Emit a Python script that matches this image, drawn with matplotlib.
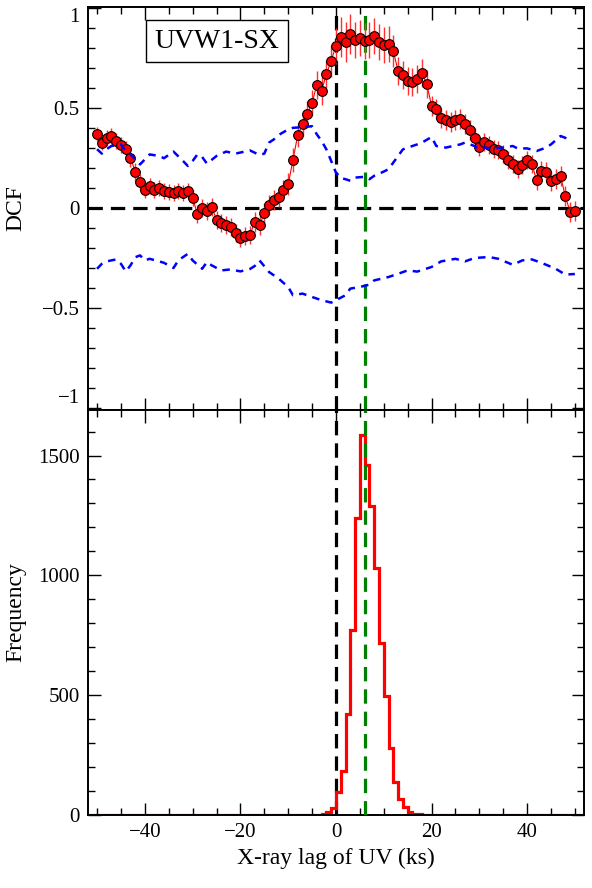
import numpy as np
import matplotlib
matplotlib.use("Agg")
import matplotlib.pyplot as plt
from matplotlib.ticker import MultipleLocator

plt.rcParams['font.family'] = 'serif'
plt.rcParams['font.serif'] = ['Liberation Serif', 'DejaVu Serif']
plt.rcParams['axes.unicode_minus'] = True

# DCF points, one every ks from -50 to 50
lag = np.arange(-50, 51)
dcf = [0.371, 0.323, 0.348, 0.360, 0.335, 0.315, 0.297, 0.252, 0.182, 0.131,
       0.090, 0.111, 0.091, 0.098, 0.086, 0.078, 0.073, 0.083, 0.073, 0.086,
       0.050, -0.030, 0.000, -0.017, 0.006, -0.058, -0.075, -0.083, -0.093, -0.124,
       -0.149, -0.141, -0.133, -0.072, -0.085, -0.027, 0.016, 0.040, 0.056, 0.090,
       0.119, 0.239, 0.365, 0.418, 0.468, 0.525, 0.617, 0.587, 0.670, 0.736,
       0.812, 0.857, 0.832, 0.871, 0.841, 0.852, 0.837, 0.841, 0.861, 0.832,
       0.816, 0.819, 0.783, 0.687, 0.667, 0.633, 0.630, 0.645, 0.675, 0.620,
       0.512, 0.496, 0.448, 0.440, 0.431, 0.438, 0.446, 0.421, 0.390, 0.348,
       0.305, 0.330, 0.313, 0.293, 0.290, 0.272, 0.239, 0.222, 0.197, 0.215,
       0.240, 0.219, 0.139, 0.186, 0.182, 0.136, 0.144, 0.161, 0.058, -0.018,
       -0.015]
dcf_err = [0.035, 0.035, 0.04, 0.04, 0.04, 0.04, 0.04, 0.045, 0.045, 0.04,
           0.04, 0.04, 0.04, 0.04, 0.04, 0.04, 0.04, 0.04, 0.04, 0.04,
           0.04, 0.045, 0.045, 0.045, 0.045, 0.045, 0.045, 0.045, 0.045, 0.045,
           0.045, 0.045, 0.045, 0.05, 0.05, 0.05, 0.05, 0.05, 0.05, 0.05,
           0.055, 0.06, 0.06, 0.06, 0.065, 0.065, 0.07, 0.07, 0.07, 0.08,
           0.09, 0.1, 0.1, 0.1, 0.09, 0.09, 0.09, 0.09, 0.09, 0.09,
           0.09, 0.09, 0.08, 0.07, 0.07, 0.07, 0.07, 0.07, 0.07, 0.07,
           0.05, 0.05, 0.05, 0.05, 0.05, 0.05, 0.05, 0.05, 0.05, 0.05,
           0.045, 0.045, 0.045, 0.045, 0.045, 0.045, 0.045, 0.045, 0.045, 0.045,
           0.045, 0.045, 0.05, 0.05, 0.05, 0.05, 0.05, 0.05, 0.05, 0.05,
           0.05]

# significance curves (blue dashed)
hi_lag = [-50, -49, -48, -47, -45, -44, -43, -41, -40, -39, -37, -36, -34, -32, -31,
          -30, -29, -28, -27, -25, -23, -21, -18, -16, -15, -14, -13, -12, -10, -9,
          -7, -5, -4, -3, -2, -1, 0, 1, 2, 3, 4, 6, 7, 8, 10, 11, 13, 14, 16, 17,
          18, 20, 21, 23, 26, 27, 29, 30, 31, 33, 35, 37, 38, 40, 42, 44, 45, 47, 48, 49]
hi_dcf = [0.294, 0.272, 0.294, 0.310, 0.318, 0.285, 0.268, 0.218, 0.243, 0.268,
          0.260, 0.249, 0.282, 0.235, 0.210, 0.235, 0.268, 0.255, 0.222, 0.260,
          0.282, 0.272, 0.288, 0.265, 0.272, 0.327, 0.343, 0.365, 0.393, 0.401,
          0.404, 0.409, 0.368, 0.335, 0.293, 0.235, 0.177, 0.150, 0.144, 0.136,
          0.152, 0.156, 0.144, 0.161, 0.182, 0.194, 0.260, 0.293, 0.310, 0.318,
          0.327, 0.355, 0.310, 0.302, 0.318, 0.327, 0.310, 0.293, 0.302, 0.298,
          0.302, 0.310, 0.298, 0.298, 0.285, 0.302, 0.318, 0.360, 0.351, 0.327]
lo_lag = [-50, -49, -48, -46, -45, -44, -43, -42, -41, -40, -39, -37, -36, -34, -33,
          -31, -30, -28, -27, -26, -24, -22, -20, -18, -17, -16, -14, -12, -10, -9,
          -7, -5, -3, -1, 0, 2, 3, 5, 7, 8, 11, 13, 15, 17, 20, 22, 25, 27, 29, 32,
          34, 37, 39, 41, 43, 46, 48, 50]
lo_dcf = [-0.304, -0.279, -0.267, -0.257, -0.279, -0.317, -0.287, -0.246, -0.237, -0.262,
          -0.254, -0.267, -0.274, -0.300, -0.262, -0.229, -0.262, -0.304, -0.270, -0.287,
          -0.312, -0.307, -0.317, -0.305, -0.290, -0.262, -0.320, -0.353, -0.395, -0.436,
          -0.428, -0.445, -0.461, -0.473, -0.461, -0.436, -0.403, -0.395, -0.383, -0.362,
          -0.345, -0.329, -0.312, -0.318, -0.295, -0.267, -0.254, -0.267, -0.250, -0.245,
          -0.254, -0.284, -0.262, -0.257, -0.274, -0.304, -0.333, -0.330]

# lag distribution histogram (1 ks bins)
bin_edges = np.arange(-52, 53)
hist_lag = [-4, -3, -2, -1, 0, 1, 2, 3, 4, 5, 6, 7, 8, 9, 10, 11, 12, 13, 14, 15, 16, 17, 18, 19]
hist_cnt = [2, 6, 14, 30, 94, 185, 420, 771, 1240, 1587, 1462, 1289, 1032, 719, 497,
            279, 136, 67, 32, 14, 6, 3, 2, 1]

label = "UVW1-SX"
lag_peak = 6.1

counts = np.zeros(len(bin_edges) - 1)
for l, c in zip(hist_lag, hist_cnt):
    counts[np.searchsorted(bin_edges, l)] = c

fig = plt.figure(figsize=(5.92, 8.88), dpi=100)
ax1 = fig.add_axes([0.1486, 0.5383, 0.8378, 0.4538])
ax2 = fig.add_axes([0.1486, 0.0822, 0.8378, 0.4561], sharex=ax1)

dash_k = dict(color='black', lw=2.3, dashes=(4.5, 2.5))
dash_g = dict(color='#008000', lw=2.3, dashes=(4.5, 2.5))

# top panel
ax1.axhline(0, zorder=1, **dash_k)
ax1.axvline(0, zorder=1, **dash_k)
ax1.axvline(lag_peak, zorder=1, **dash_g)
ax1.plot(lag, dcf, color='red', lw=0.8, zorder=2)
ax1.errorbar(lag, dcf, yerr=dcf_err, fmt='o', color='red', ecolor='#ff3030',
             elinewidth=1.0, capsize=0, markersize=7, markerfacecolor='red',
             markeredgecolor='black', markeredgewidth=0.8, zorder=3)
ax1.plot(hi_lag, hi_dcf, color='blue', lw=1.8, dashes=(3, 2.5), zorder=4)
ax1.plot(lo_lag, lo_dcf, color='blue', lw=1.8, dashes=(3, 2.5), zorder=4)
ax1.set_ylim(-1.01, 1.005)
ax1.set_yticks([-1, -0.5, 0, 0.5, 1])
ax1.set_yticklabels(['\u22121', '\u22120.5', '0', '0.5', '1'])
ax1.yaxis.set_minor_locator(MultipleLocator(0.1))
ax1.set_ylabel('DCF', fontsize=17)
ax1.text(0.26, 0.915, label, transform=ax1.transAxes, fontsize=20, ha='center', va='center',
         bbox=dict(boxstyle='square,pad=0.3', facecolor='white', edgecolor='black', lw=1.0))
plt.setp(ax1.get_xticklabels(), visible=False)
ylabs = ax1.get_yticklabels()
ylabs[-1].set_va('top')
ylabs[0].set_va('bottom')

# bottom panel
ax2.axvline(0, zorder=1, **dash_k)
ax2.axvline(lag_peak, zorder=3, **dash_g)
ax2.stairs(counts, bin_edges, color='red', lw=2.3, zorder=2)
ax2.set_ylim(0, 1690)
ax2.set_yticks([0, 500, 1000, 1500])
ax2.yaxis.set_minor_locator(MultipleLocator(100))
ax2.set_ylabel('Frequency', fontsize=17)
ax2.set_xlabel('X-ray lag of UV (ks)', fontsize=17)

ax1.set_xlim(-51.9, 51.9)
ax1.set_xticks([-40, -20, 0, 20, 40])
ax1.xaxis.set_minor_locator(MultipleLocator(5))

for ax in (ax1, ax2):
    ax.tick_params(which='both', direction='in', top=True, right=True, labelsize=15, pad=6)
    ax.tick_params(which='major', length=9, width=1.0)
    ax.tick_params(which='minor', length=5, width=1.0)
    for s in ax.spines.values():
        s.set_linewidth(1.4)
    ax.yaxis.set_label_coords(-0.125, 0.5)

fig.savefig('out.png', dpi=100)
